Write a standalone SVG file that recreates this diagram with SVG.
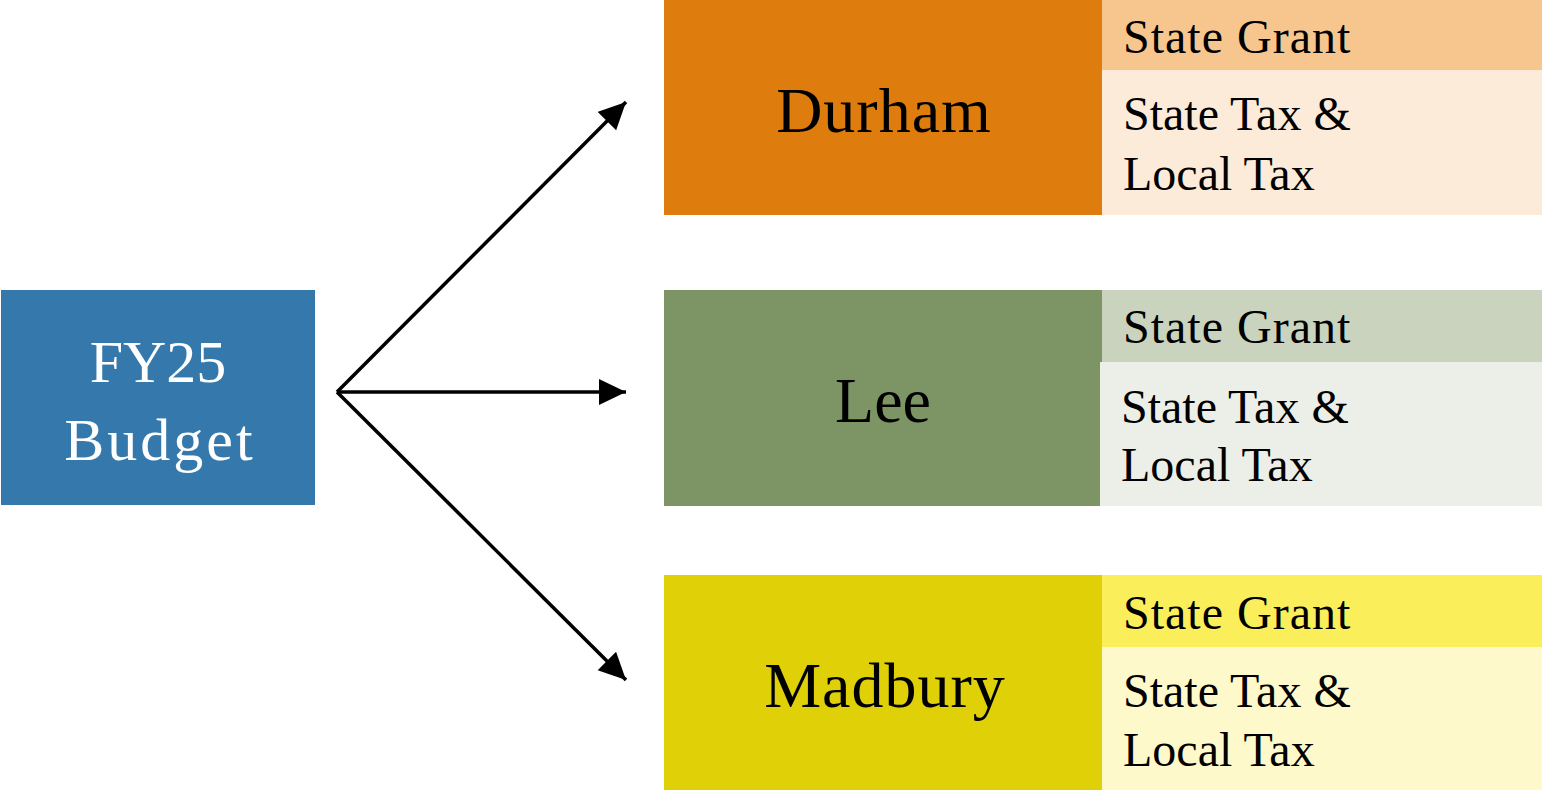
<svg xmlns="http://www.w3.org/2000/svg" width="1542" height="792" viewBox="0 0 1542 792">
<style>
text{font-family:"Liberation Serif","Times New Roman",serif;fill:#000}
.sub{font-size:48px}
.town{font-size:64px;text-anchor:middle}
.main{font-size:60px;text-anchor:middle;fill:#fff}
.conn{stroke:#000;stroke-width:3.5;fill:none}
</style>
<defs>
<marker id="ah" markerUnits="userSpaceOnUse" markerWidth="28" markerHeight="27" refX="27" refY="13" orient="auto">
<path d="M0,0 L27,13 L0,26 z" fill="#000"/>
</marker>
</defs>
<rect width="1542" height="792" fill="#fff"/>
<g id="fy25">
<rect x="1" y="290" width="314" height="215" fill="#3579AC"/>
<text class="main" x="158" y="382">FY25</text>
<text class="main" x="160" y="460" letter-spacing="3">Budget</text>
</g>
<g id="durham">
<rect x="664" y="0" width="438" height="215" fill="#DE7D0E"/>
<rect x="1102" y="0" width="440" height="70" fill="#F6C68E"/>
<rect x="1102" y="70" width="440" height="145" fill="#FDEBDA"/>
<text class="town" x="884" y="132" letter-spacing="1">Durham</text>
<text class="sub" x="1123" y="53" letter-spacing="1">State Grant</text>
<text class="sub" x="1123" y="130">State Tax &amp;</text>
<text class="sub" x="1123" y="190">Local Tax</text>
</g>
<g id="lee">
<rect x="664" y="290" width="438" height="216" fill="#7D9464"/>
<rect x="1102" y="290" width="440" height="72" fill="#C9D3BE"/>
<rect x="1100" y="362" width="442" height="144" fill="#EBEFE7"/>
<text class="town" x="883" y="422">Lee</text>
<text class="sub" x="1123" y="343" letter-spacing="1">State Grant</text>
<text class="sub" x="1121" y="423">State Tax &amp;</text>
<text class="sub" x="1121" y="481">Local Tax</text>
</g>
<g id="madbury">
<rect x="664" y="575" width="438" height="215" fill="#E0D007"/>
<rect x="1102" y="575" width="440" height="72" fill="#FAEF5A"/>
<rect x="1102" y="647" width="440" height="143" fill="#FEF9CB"/>
<text class="town" x="885" y="707" letter-spacing="1">Madbury</text>
<text class="sub" x="1123" y="629" letter-spacing="1">State Grant</text>
<text class="sub" x="1123" y="707">State Tax &amp;</text>
<text class="sub" x="1123" y="766">Local Tax</text>
</g>
<g id="connectors">
<line class="conn" x1="337" y1="392" x2="626" y2="102" marker-end="url(#ah)"/>
<line class="conn" x1="337" y1="392" x2="626" y2="392" marker-end="url(#ah)"/>
<line class="conn" x1="337" y1="392" x2="626" y2="680" marker-end="url(#ah)"/>
</g>
</svg>
